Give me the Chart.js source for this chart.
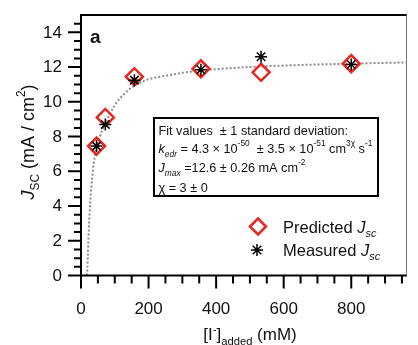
<!DOCTYPE html>
<html><head><meta charset="utf-8">
<script src="https://cdn.jsdelivr.net/npm/chart.js@4/dist/chart.umd.min.js"></script>
<style>html,body{margin:0;padding:0;background:#fff;overflow:hidden}</style>
</head><body>
<canvas id="c" width="418" height="345"></canvas>
<script>
// ---- data ----
const concentrations = [46, 72, 158, 355, 533, 800];
const predictedJsc = [7.45, 9.1, 11.45, 11.9, 11.7, 12.2];
const measuredJsc = [7.45, 8.7, 11.25, 11.85, 12.6, 12.15];
const fitConc = [18, 20, 23, 28, 33, 38, 46, 55, 72, 100, 130, 160, 200, 250, 300, 355, 450, 550, 650, 800, 965];
const fitJsc = [0, 1.0, 2.6, 4.4, 5.6, 6.5, 7.35, 7.95, 8.75, 9.8, 10.5, 10.95, 11.3, 11.5, 11.67, 11.8, 11.95, 12.05, 12.12, 12.2, 12.27];
const xTickLabels = ['0', '200', '400', '600', '800'];
const yTickLabels = ['0', '2', '4', '6', '8', '10', '12', '14'];
const xMinorTicks = [50, 100, 150, 250, 300, 350, 450, 500, 550, 650, 700, 750, 850, 900, 950];
const yMinorTicks = [0.5,1,1.5,2.5,3,3.5,4.5,5,5.5,6.5,7,7.5,8.5,9,9.5,10.5,11,11.5,12.5,13,13.5,14.5];

const FAM = '"Liberation Sans", Arial, Helvetica, sans-serif';

function drawRich(ctx, x, y, parts, size, align, supK) {
  const sk = supK || 0.42;
  const font = p => (p.i ? 'italic ' : '') + (p.b ? 'bold ' : '') + ((p.sub || p.sup) ? size * 0.66 : size) + 'px ' + FAM;
  let w = 0;
  parts.forEach(p => { ctx.font = font(p); p.w = ctx.measureText(p.t).width; w += p.w; });
  let cx = align === 'center' ? x - w / 2 : align === 'right' ? x - w : x;
  ctx.textAlign = 'left';
  parts.forEach(p => {
    ctx.font = font(p);
    const dy = p.sub ? size * 0.3 : p.sup ? -size * sk : 0;
    ctx.fillText(p.t, cx, y + dy);
    cx += p.w;
  });
}

const decor = {
  id: 'decor',
  afterDraw(chart) {
    const ctx = chart.ctx;
    const xs = chart.scales.x, ys = chart.scales.y;
    const a = chart.chartArea;
    ctx.save();
    ctx.strokeStyle = '#000';
    ctx.fillStyle = '#111';
    ctx.lineWidth = 2;
    ctx.lineCap = 'butt';
    // frame
    ctx.beginPath();
    ctx.moveTo(a.left, a.bottom); ctx.lineTo(a.left, a.top); ctx.lineTo(a.right, a.top);
    ctx.moveTo(a.left - 1, a.bottom); ctx.lineTo(a.right, a.bottom);
    ctx.stroke();
    ctx.lineWidth = 1;
    ctx.strokeStyle = '#777';
    ctx.beginPath(); ctx.moveTo(a.right - 0.5, a.top); ctx.lineTo(a.right - 0.5, a.bottom); ctx.stroke();
    ctx.strokeStyle = '#000';
    ctx.lineWidth = 2;
    // y ticks
    ctx.beginPath();
    yTickLabels.forEach(l => { const py = ys.getPixelForValue(+l); ctx.moveTo(a.left, py); ctx.lineTo(a.left - 13, py); });
    yMinorTicks.forEach(v => { const py = ys.getPixelForValue(v); ctx.moveTo(a.left, py); ctx.lineTo(a.left - 7, py); });
    // x ticks
    xTickLabels.forEach(l => { const px = xs.getPixelForValue(+l); ctx.moveTo(px, a.bottom); ctx.lineTo(px, a.bottom + 13); });
    xMinorTicks.forEach(v => { const px = xs.getPixelForValue(v); ctx.moveTo(px, a.bottom); ctx.lineTo(px, a.bottom + 8); });
    ctx.stroke();
    // tick labels
    ctx.font = '17px ' + FAM;
    ctx.textAlign = 'right'; ctx.textBaseline = 'middle';
    yTickLabels.forEach(l => ctx.fillText(l, 62, ys.getPixelForValue(+l) + 0.5));
    ctx.textAlign = 'center'; ctx.textBaseline = 'alphabetic';
    xTickLabels.forEach(l => ctx.fillText(l, xs.getPixelForValue(+l), 313.5));
    // axis titles
    ctx.save();
    ctx.translate(33.5, 142);
    ctx.rotate(-Math.PI / 2);
    drawRich(ctx, 0, 0, [{t: 'J', i: 1}, {t: 'SC', sub: 1}, {t: ' (mA / cm'}, {t: '2', sup: 1}, {t: ')'}], 18, 'center', 0.5);
    ctx.restore();
    drawRich(ctx, 250, 340, [{t: '[I'}, {t: '-', sup: 1}, {t: ']'}, {t: 'added', sub: 1}, {t: ' (mM)'}], 17, 'center');
    // panel letter
    ctx.font = 'bold 19px ' + FAM;
    ctx.textAlign = 'left';
    ctx.fillText('a', 90, 42.5);
    // fit box
    ctx.fillStyle = '#fff';
    ctx.fillRect(153, 117, 226, 80);
    ctx.lineWidth = 2;
    ctx.strokeRect(154, 118, 224, 78);
    ctx.fillStyle = '#111';
    const bf = 12.7;
    drawRich(ctx, 158.5, 135, [{t: 'Fit values  \u00b1 1 standard deviation:'}], bf, 'left');
    drawRich(ctx, 158.5, 153, [{t: 'k', i: 1}, {t: 'edr', i: 1, sub: 1}, {t: ' = 4.3 \u00d7 10'}, {t: '-50', sup: 1}, {t: '  \u00b1 3.5 \u00d7 10'}, {t: '-51', sup: 1}, {t: ' cm'}, {t: '3\u03c7', sup: 1}, {t: ' s'}, {t: '-1', sup: 1}], bf, 'left', 0.55);
    drawRich(ctx, 158.5, 172, [{t: 'J', i: 1}, {t: 'max', i: 1, sub: 1}, {t: ' =12.6 \u00b1 0.26 mA cm'}, {t: '-2', sup: 1}], bf, 'left', 0.55);
    drawRich(ctx, 158.5, 191.5, [{t: '\u03c7 = 3 \u00b1 0'}], bf, 'left');
    // legend
    const dx = 258, dy = 226.5, r = 8;
    ctx.strokeStyle = '#e8251f'; ctx.lineWidth = 2.5;
    ctx.beginPath(); ctx.moveTo(dx - r, dy); ctx.lineTo(dx, dy - r); ctx.lineTo(dx + r, dy); ctx.lineTo(dx, dy + r); ctx.closePath(); ctx.stroke();
    const sx = 257, sy = 250, sr = 6;
    ctx.strokeStyle = '#000'; ctx.lineWidth = 1.5;
    ctx.beginPath();
    for (let k = 0; k < 4; k++) {
      const ang = k * Math.PI / 4;
      ctx.moveTo(sx - Math.cos(ang) * sr, sy - Math.sin(ang) * sr);
      ctx.lineTo(sx + Math.cos(ang) * sr, sy + Math.sin(ang) * sr);
    }
    ctx.stroke();
    ctx.fillStyle = '#111';
    drawRich(ctx, 283, 232.5, [{t: 'Predicted '}, {t: 'J', i: 1}, {t: 'sc', i: 1, sub: 1}], 16.5, 'left');
    drawRich(ctx, 283, 255.5, [{t: 'Measured '}, {t: 'J', i: 1}, {t: 'sc', i: 1, sub: 1}], 16.5, 'left');
    ctx.restore();
  }
};

new Chart(document.getElementById('c'), {
  type: 'scatter',
  data: {
    datasets: [
      {
        label: 'Measured Jsc',
        data: concentrations.map((x, i) => ({x, y: measuredJsc[i]})),
        pointStyle: 'star', pointRadius: 6, borderColor: '#000', borderWidth: 1.5,
        backgroundColor: '#000', showLine: false
      },
      {
        label: 'Predicted Jsc',
        data: concentrations.map((x, i) => ({x, y: predictedJsc[i]})),
        pointStyle: 'rectRot', pointRadius: 8.5, borderColor: '#e8251f', borderWidth: 2.5,
        backgroundColor: 'rgba(0,0,0,0)', showLine: false
      },
      {
        label: 'Fit',
        data: fitConc.map((x, i) => ({x, y: fitJsc[i]})),
        showLine: true, pointRadius: 0, borderColor: '#8c8c8c', borderWidth: 2,
        borderDash: [2, 2], cubicInterpolationMode: 'monotone', fill: false
      }
    ]
  },
  options: {
    responsive: false,
    animation: false,
    events: [],
    layout: {padding: {top: 15, right: 3, left: 0, bottom: 0}},
    plugins: {legend: {display: false}, tooltip: {enabled: false}},
    scales: {
      x: {
        type: 'linear', min: 0, max: 965,
        grid: {display: false, drawTicks: false}, border: {display: false},
        ticks: {display: false},
        afterFit: s => { s.height = 69.5; }
      },
      y: {
        type: 'linear', min: 0, max: 15,
        grid: {display: false, drawTicks: false}, border: {display: false},
        ticks: {display: false},
        afterFit: s => { s.width = 81; }
      }
    }
  },
  plugins: [decor]
});
</script>
</body></html>
